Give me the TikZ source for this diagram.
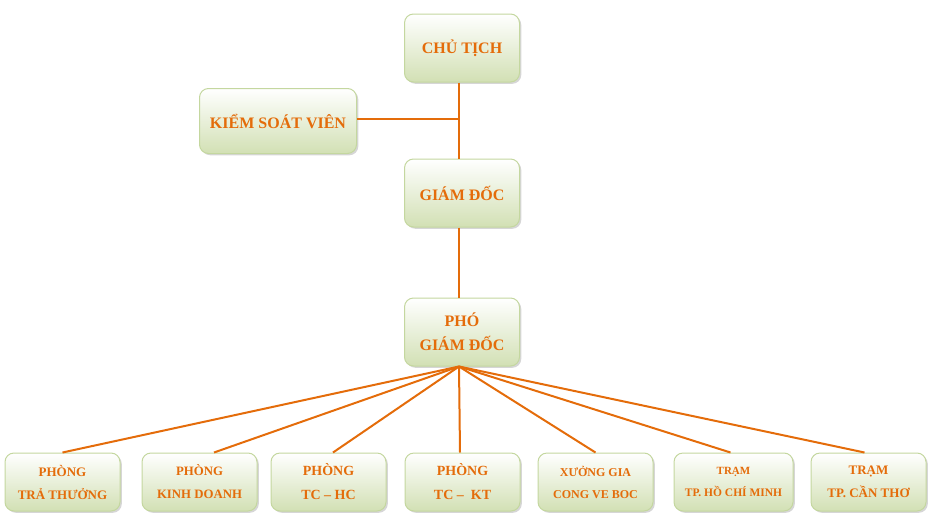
\documentclass[tikz,border=0pt]{standalone}
\usepackage{fontspec}
\setmainfont{Liberation Serif}
\usetikzlibrary{shadows}
\definecolor{org}{HTML}{E46C0A}
\definecolor{gbot}{HTML}{D2E0B4}
\definecolor{gbd}{HTML}{C4D79F}
\tikzset{
 box/.style={draw=gbd, line width=1pt, rounded corners=9pt, top color=white, bottom color=gbot,
   minimum width=115pt, text=org, align=center, inner sep=2pt,
   drop shadow={opacity=0.32, shadow xshift=1.8pt, shadow yshift=-1.8pt}},
 big/.style={box, minimum height=68pt, font=\bfseries\fontsize{16}{24}\selectfont},
 small/.style={box, minimum height=58pt},
 conn/.style={draw=org, line width=2pt},
}
\begin{document}
\begin{tikzpicture}[x=1pt,y=-1pt]
\useasboundingbox (0,0) rectangle (934,525);
\node[big] (ct) at (462,48) {CHỦ TỊCH};
\node[big, minimum width=157pt, minimum height=65pt] (ksv) at (278,121) {KIỂM SOÁT VIÊN};
\node[big] (gd) at (462,193) {GIÁM ĐỐC};
\node[big] (pgd) at (462,332) {PHÓ\\GIÁM ĐỐC};
\coordinate (j) at (459,119);

\node[small, font=\bfseries\fontsize{13}{23}\selectfont] (b1) at (62.5,482) {PHÒNG\\TRẢ THƯỞNG};
\node[small, font=\bfseries\fontsize{12.8}{23}\selectfont] (b2) at (199.5,482) {PHÒNG\\KINH DOANH};
\node[small, font=\bfseries\fontsize{14}{24}\selectfont] (b3) at (328.5,482) {PHÒNG\\TC – HC};
\node[small, font=\bfseries\fontsize{14}{24}\selectfont] (b4) at (462.5,482) {PHÒNG\\TC –\ \ KT};
\node[small, font=\bfseries\fontsize{12}{22}\selectfont] (b5) at (595.5,482) {XƯỞNG GIA\\CONG VE BOC};
\node[small, minimum width=119pt, font=\bfseries\fontsize{11.5}{22}\selectfont] (b6) at (733.5,482) {{\fontsize{11}{13}\selectfont TRẠM}\\TP. HỒ CHÍ MINH};
\node[small, font=\bfseries\fontsize{13}{23}\selectfont] (b7) at (868.5,482) {TRẠM\\TP. CẦN THƠ};

\draw[conn] (ct.south -| j) -- (gd.north -| j);
\draw[conn] (ksv.east |- j) -- (j);
\draw[conn] (gd.south -| j) -- (pgd.north -| j);
\coordinate (h) at (pgd.south -| j);
\draw[conn] (h) -- (b1.north);
\draw[conn] (h) -- ([xshift=14.5pt]b2.north);
\draw[conn] (h) -- ([xshift=4.5pt]b3.north);
\draw[conn] (h) -- ([xshift=-2.5pt]b4.north);
\draw[conn] (h) -- (b5.north);
\draw[conn] (h) -- ([xshift=-3pt]b6.north);
\draw[conn] (h) -- ([xshift=-4pt]b7.north);
\end{tikzpicture}
\end{document}
